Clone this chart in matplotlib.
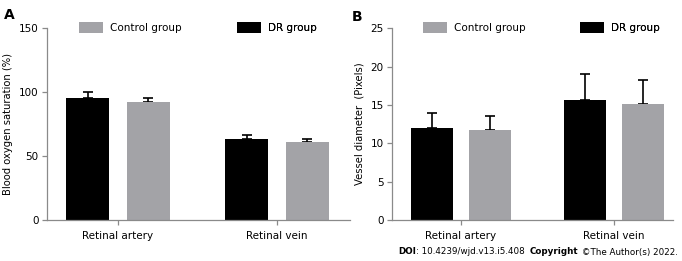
import numpy as np
import matplotlib
matplotlib.use("Agg")
import matplotlib.pyplot as plt
from matplotlib.patches import Patch

plt.rcParams.update({
    "font.family": "DejaVu Sans",
    "font.size": 7.5,
    "axes.spines.top": False,
    "axes.spines.right": False,
})

# ── Data ──────────────────────────────────────────────────────────────────────
categories = ["Retinal artery", "Retinal vein"]

sat_dr = [95.1, 63.5]
sat_dr_err = [4.7, 3.2]
sat_ctrl = [92.4, 60.7]
sat_ctrl_err = [3.4, 2.8]

diam_dr = [12.0, 15.7]
diam_dr_err = [2.0, 3.4]
diam_ctrl = [11.7, 15.1]
diam_ctrl_err = [1.9, 3.2]

BLACK = "#000000"
GRAY = "#a3a3a7"
SPINE = "#8a8a8a"

W, H = 682, 261
fig = plt.figure(figsize=(W / 100, H / 100), dpi=100)


def fx(px):
    return px / W


def fy(py):
    return 1 - py / H


def panel(rect, dr, dr_err, ctrl, ctrl_err, ylim, yticks, ylabel, xlim):
    ax = fig.add_axes(rect)
    x = np.arange(len(categories))
    off, bw = 0.19, 0.27
    for xs, vals, errs, col in [(x - off, dr, dr_err, BLACK), (x + off, ctrl, ctrl_err, GRAY)]:
        ax.bar(xs, vals, width=bw, color=col, zorder=2)
        ax.errorbar(xs, vals, yerr=[np.zeros(len(vals)), errs], fmt="none",
                    ecolor=BLACK, elinewidth=1.2, capsize=3.8, capthick=1.2, zorder=1)
    ax.set_xlim(*xlim)
    ax.set_ylim(*ylim)
    ax.set_yticks(yticks)
    ax.set_xticks(x)
    ax.set_xticklabels(categories)
    for s in ["left", "bottom"]:
        ax.spines[s].set_color(SPINE)
        ax.spines[s].set_linewidth(0.9)
    ax.tick_params(axis="both", colors=SPINE, labelcolor="black", length=3.5, width=0.9, pad=2.5)
    ax.tick_params(axis="x", pad=4.5)
    ax.set_ylabel(ylabel, fontsize=7.2, labelpad=4)
    return ax


ax1 = panel([fx(47), fy(220), fx(350 - 47), fy(28.3) - fy(220)],
            sat_dr, sat_dr_err, sat_ctrl, sat_ctrl_err,
            (0, 150), [0, 50, 100, 150], "Blood oxygen saturation (%)", (-0.447, 1.459))
ax2 = panel([fx(392), fy(220), fx(673 - 392), fy(28.3) - fy(220)],
            diam_dr, diam_dr_err, diam_ctrl, diam_ctrl_err,
            (0, 25), [0, 5, 10, 15, 20, 25], "Vessel diameter  (Pixels)", (-0.451, 1.386))


# legends: one entry each, placed where the reference has them
def legend_entry(ax, color, label, xpx, ypx):
    lg = ax.legend(handles=[Patch(facecolor=color, edgecolor="none")], labels=[label],
                   loc="center left", bbox_to_anchor=(fx(xpx), fy(ypx)),
                   bbox_transform=fig.transFigure, frameon=False, borderpad=0,
                   borderaxespad=0, handlelength=2.3, handleheight=1.25,
                   handletextpad=0.65, fontsize=7.5)
    ax.add_artist(lg)


legend_entry(ax1, GRAY, "Control group", 79, 27.5)
legend_entry(ax1, BLACK, "DR group", 237, 27.5)
legend_entry(ax2, GRAY, "Control group", 423, 27.5)
legend_entry(ax2, BLACK, "DR group", 580, 27.5)

fig.text(fx(4), fy(15), "A", fontsize=10, fontweight="bold", va="center", ha="left")
fig.text(fx(352), fy(17), "B", fontsize=10, fontweight="bold", va="center", ha="left")

# footer line with mixed weights, sized to span x = 398..680 px
footer = [("DOI", "bold"), (": 10.4239/wjd.v13.i5.408  ", "normal"),
          ("Copyright", "bold"), (" \u00a9The Author(s) 2022.", "normal")]
fig.canvas.draw()
renderer = fig.canvas.get_renderer()
total = 0
for txt, wt in footer:
    t = fig.text(0, 0, txt, fontsize=7.2, fontweight=wt)
    total += t.get_window_extent(renderer=renderer).width
    t.remove()
fsize = 7.2 * (680 - 398) / total

xpos = 398
for txt, wt in footer:
    t = fig.text(fx(xpos), fy(252), txt, fontsize=fsize, fontweight=wt, va="center", ha="left")
    xpos += t.get_window_extent(renderer=renderer).width

fig.savefig("out.png", dpi=100)
